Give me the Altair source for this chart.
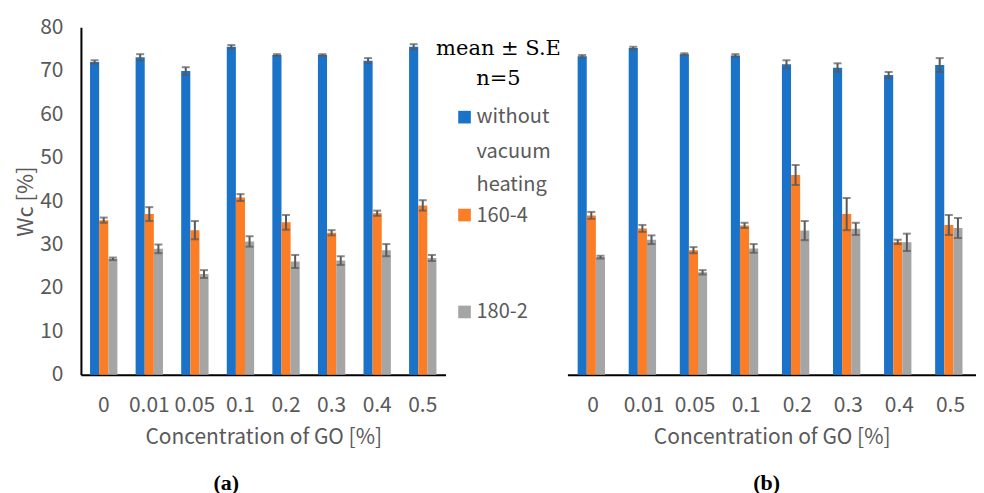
import altair as alt
import pandas as pd

concs = ["0", "0.01", "0.05", "0.1", "0.2", "0.3", "0.4", "0.5"]
series_names = ["without vacuum heating", "160-4", "180-2"]
colors = ["#1a73c9", "#fb7d26", "#a5a5a5"]

# panel (a)
a_without = [72.0, 73.1, 69.9, 75.5, 73.6, 73.6, 72.3, 75.5]
a_without_se = [0.4, 0.7, 0.9, 0.4, 0.2, 0.2, 0.6, 0.6]
a_160 = [35.6, 37.0, 33.3, 40.8, 35.1, 32.7, 37.2, 39.0]
a_160_se = [0.6, 1.6, 2.1, 0.8, 1.7, 0.6, 0.6, 1.2]
a_180 = [26.7, 29.0, 23.2, 30.7, 26.1, 26.3, 28.7, 26.9]
a_180_se = [0.3, 1.0, 0.9, 1.2, 1.5, 1.0, 1.4, 0.7]

# panel (b)
b_without = [73.3, 75.2, 73.8, 73.5, 71.5, 70.7, 69.0, 71.3]
b_without_se = [0.3, 0.3, 0.2, 0.3, 0.9, 1.0, 0.7, 1.6]
b_160 = [36.7, 33.7, 28.7, 34.4, 46.0, 37.0, 30.6, 34.5]
b_160_se = [0.8, 0.8, 0.7, 0.6, 2.3, 3.7, 0.5, 2.3]
b_180 = [27.1, 31.1, 23.6, 29.1, 33.2, 33.6, 30.5, 33.8]
b_180_se = [0.3, 1.0, 0.5, 1.0, 2.2, 1.4, 2.0, 2.3]

y_ticks = [0, 10, 20, 30, 40, 50, 60, 70, 80]
legend_lines = ["without", "vacuum", "heating"]

FONT = "Noto Sans CJK JP"
GRAY = "#595959"
H = 348


def make_df(vals, ses):
    rows = []
    for s, v, e in zip(series_names, vals, ses):
        for c, m, se in zip(concs, v, e):
            rows.append(dict(conc=c, series=s, mean=m, lo=m - se, hi=m + se))
    return pd.DataFrame(rows)


def panel(df, width, show_y, tag, tag_dx):
    x = alt.X(
        "conc:N", sort=concs,
        scale=alt.Scale(paddingInner=0.4, paddingOuter=0.2),
        axis=alt.Axis(title="Concentration of GO [%]", labelAngle=0, ticks=False,
                      domainColor="black", domainWidth=2, labelFontSize=21,
                      labelColor=GRAY, labelPadding=20, titleFontSize=21,
                      titleColor=GRAY, titleFontWeight="normal", titlePadding=11,
                      labelFont=FONT, titleFont=FONT),
    )
    xo = alt.XOffset("series:N", sort=series_names, scale=alt.Scale(paddingInner=0))
    ysc = alt.Scale(domain=[0, 80])
    if show_y:
        yax = alt.Axis(title="Wc [%]", values=y_ticks, ticks=False, grid=False,
                       domainColor="black", domainWidth=2, labelFontSize=21,
                       labelColor=GRAY, labelPadding=18, titleFontSize=22,
                       titleColor=GRAY, titleFontWeight="normal", titlePadding=2,
                       labelFont=FONT, titleFont=FONT)
    else:
        yax = None
    base = alt.Chart(df)
    bars = base.mark_bar().encode(
        x=x, xOffset=xo,
        y=alt.Y("mean:Q", scale=ysc, axis=yax),
        color=alt.Color("series:N", scale=alt.Scale(domain=series_names, range=colors), legend=None),
    )
    rules = base.mark_rule(color=GRAY, strokeWidth=2).encode(
        x=x, xOffset=xo, y=alt.Y("lo:Q", scale=ysc), y2="hi:Q")
    cap_lo = base.mark_tick(color=GRAY, thickness=2, size=8).encode(
        x=x, xOffset=xo, y=alt.Y("lo:Q", scale=ysc))
    cap_hi = base.mark_tick(color=GRAY, thickness=2, size=8).encode(
        x=x, xOffset=xo, y=alt.Y("hi:Q", scale=ysc))
    lab = alt.Chart(pd.DataFrame({"t": [tag]})).mark_text(
        font="Liberation Serif", fontWeight="bold", fontSize=22, color="black",
        baseline="middle", align="center",
    ).encode(text="t:N", x=alt.value(width / 2 + tag_dx), y=alt.value(H + 108))
    return alt.layer(bars, rules, cap_lo, cap_hi, lab).properties(width=width, height=H)


left = panel(make_df([a_without, a_160, a_180], [a_without_se, a_160_se, a_180_se]), 365, True, "(a)", -37)
right = panel(make_df([b_without, b_160, b_180], [b_without_se, b_160_se, b_180_se]), 409, False, "(b)", -5)

# legend (drawn in the gap, relative to right panel)
leg_head = alt.Chart(pd.DataFrame({"t": ["mean ± S.E", "n=5"], "yy": [22, 52]})).mark_text(
    font="DejaVu Serif", fontSize=21, color="black", align="center", baseline="middle",
).encode(text="t:N", x=alt.value(-69), y=alt.Y("yy:Q", scale=None))
leg_sq = alt.Chart(pd.DataFrame({"s": series_names, "yy": [90, 188, 285]})).mark_square(
    size=160, opacity=1,
).encode(
    x=alt.value(-103), y=alt.Y("yy:Q", scale=None),
    color=alt.Color("s:N", scale=alt.Scale(domain=series_names, range=colors), legend=None),
)
leg_txt = alt.Chart(pd.DataFrame({
    "t": legend_lines + ["160-4", "180-2"],
    "yy": [90, 125, 158, 189, 285]})).mark_text(
    font=FONT, fontSize=20, color=GRAY, align="left", baseline="middle",
).encode(text="t:N", x=alt.value(-91), y=alt.Y("yy:Q", scale=None))

right = alt.layer(right, leg_head, leg_sq, leg_txt)

chart = alt.hconcat(left, right, spacing=122, bounds="flush").properties(
    padding={"left": 6, "top": 8, "right": 0, "bottom": 0}
).configure_view(stroke=None)

chart.save("out.html", embed_options={"renderer": "svg", "actions": False})
